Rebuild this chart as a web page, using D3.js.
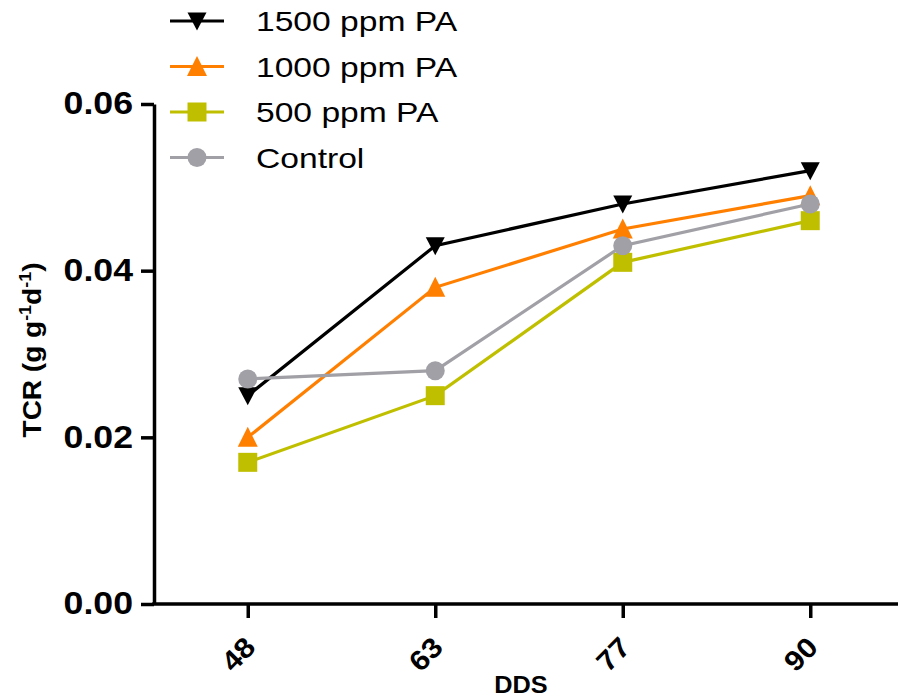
<!DOCTYPE html>
<html>
<head>
<meta charset="utf-8">
<script src="https://cdn.jsdelivr.net/npm/d3@7"></script>
<style>
  html, body { margin: 0; padding: 0; background: #fff; }
  svg { display: block; }
  text { font-family: "Liberation Sans", Arial, Helvetica, sans-serif; }
</style>
</head>
<body>
<svg id="chart" width="898" height="700"></svg>
<script>
// Sampling days (DDS) and TCR values for each treatment
const days = ["48", "63", "77", "90"];
const seriesNames = ["1500 ppm PA", "1000 ppm PA", "500 ppm PA", "Control"];
const tcr1500 = [0.025, 0.043, 0.048, 0.052];
const tcr1000 = [0.020, 0.038, 0.045, 0.049];
const tcr500  = [0.017, 0.025, 0.041, 0.046];
const tcrControl = [0.027, 0.028, 0.043, 0.048];
const yTicks = [0.00, 0.02, 0.04, 0.06];

const series = [
  { name: seriesNames[0], values: tcr1500, color: "#000000", shape: "down" },
  { name: seriesNames[1], values: tcr1000, color: "#ff7f00", shape: "up" },
  { name: seriesNames[2], values: tcr500, color: "#bfbf00", shape: "square" },
  { name: seriesNames[3], values: tcrControl, color: "#a0a0a6", shape: "circle" }
];

const svg = d3.select("#chart");
const plotLeft = 154, plotTop = 104, plotBottom = 604, plotRight = 904;

const x = d3.scalePoint().domain(days).range([plotLeft, plotRight]).padding(0.5);
const y = d3.scaleLinear().domain([0, 0.06]).range([plotBottom, plotTop]);

// Marker shapes, centred on their bounding box
function markerPath(shape) {
  const h = 9.5;
  switch (shape) {
    case "down": return `M${-h},${-h + 1} L${h},${-h + 1} L0,${h} Z`;
    case "up": return `M${-h - 0.5},${h} L${h + 0.5},${h} L0,${-h - 1} Z`;
    case "square": return `M${-h},${-h} H${h} V${h} H${-h} Z`;
    default: return null;
  }
}
function drawMarker(g, shape, color, cx, cy) {
  if (shape === "circle") {
    g.append("circle").attr("cx", cx).attr("cy", cy).attr("r", 9.5).attr("fill", color);
  } else {
    g.append("path").attr("d", markerPath(shape))
      .attr("transform", `translate(${cx},${cy})`).attr("fill", color);
  }
}

// Stretch a text element along its own direction
function widen(sel, k) {
  sel.each(function () {
    const w = this.getComputedTextLength();
    d3.select(this).attr("textLength", w * k).attr("lengthAdjust", "spacingAndGlyphs");
  });
}

// Y axis
const yAxis = svg.append("g")
  .attr("transform", `translate(${plotLeft},0)`)
  .call(d3.axisLeft(y).tickValues(yTicks).tickFormat(d3.format(".2f"))
    .tickSize(13).tickSizeOuter(0).tickPadding(8));
yAxis.select(".domain").attr("stroke", "#000").attr("stroke-width", 3.5);
yAxis.selectAll(".tick line").attr("stroke", "#000").attr("stroke-width", 3.5);
yAxis.selectAll(".tick text")
  .attr("font-size", 31).attr("font-weight", "bold").attr("fill", "#000")
  .attr("font-family", "Liberation Sans, Arial, sans-serif")
  .call(widen, 1.15);

// X axis
const xAxis = svg.append("g")
  .attr("transform", `translate(0,${plotBottom})`)
  .call(d3.axisBottom(x).tickSize(14).tickSizeOuter(0).tickPadding(0));
xAxis.select(".domain").attr("stroke", "#000").attr("stroke-width", 3.5)
  .attr("d", `M${plotLeft - 1.75},0H898`);
xAxis.selectAll(".tick line").attr("stroke", "#000").attr("stroke-width", 3.5);
xAxis.selectAll(".tick text")
  .attr("font-size", 28).attr("font-weight", "bold").attr("fill", "#000")
  .attr("font-family", "Liberation Sans, Arial, sans-serif")
  .attr("text-anchor", "end")
  .attr("x", 2).attr("y", 38).attr("dy", "0.35em")
  .attr("transform", "rotate(-45, 2, 38)")
  .call(widen, 1.1);

// Axis titles
svg.append("text")
  .attr("x", 521).attr("y", 693)
  .attr("text-anchor", "middle")
  .attr("font-size", 23).attr("font-weight", "bold")
  .text("DDS").call(widen, 1.1);

const yTitle = svg.append("text")
  .attr("transform", "translate(41,350) rotate(-90)")
  .attr("text-anchor", "middle")
  .attr("font-size", 25).attr("font-weight", "bold");
yTitle.append("tspan").text("TCR (g g");
yTitle.append("tspan").attr("font-size", 16).attr("dy", -10).text("-1");
yTitle.append("tspan").attr("dy", 10).text("d");
yTitle.append("tspan").attr("font-size", 16).attr("dy", -10).text("-1");
yTitle.append("tspan").attr("dy", 10).text(")");
yTitle.call(widen, 1.12);

// Series lines and markers
const line = d3.line().x((d, i) => x(days[i])).y(d => y(d));
const plot = svg.append("g");
series.forEach(s => {
  const g = plot.append("g");
  g.append("path").datum(s.values).attr("d", line)
    .attr("fill", "none").attr("stroke", s.color).attr("stroke-width", 3.2)
    .attr("stroke-linejoin", "miter");
  s.values.forEach((v, i) => drawMarker(g, s.shape, s.color, x(days[i]), y(v)));
});

// Legend
const legend = svg.append("g");
series.forEach((s, i) => {
  const cy = 21 + i * 45.5;
  const row = legend.append("g");
  row.append("line").attr("x1", 170).attr("x2", 224).attr("y1", cy).attr("y2", cy)
    .attr("stroke", s.color).attr("stroke-width", 3.2);
  drawMarker(row, s.shape, s.color, 197, cy);
  row.append("text").attr("x", 256).attr("y", cy).attr("dy", "0.36em")
    .attr("font-size", 28).attr("fill", "#000")
    .text(s.name).call(widen, 1.2);
});
</script>
</body>
</html>
